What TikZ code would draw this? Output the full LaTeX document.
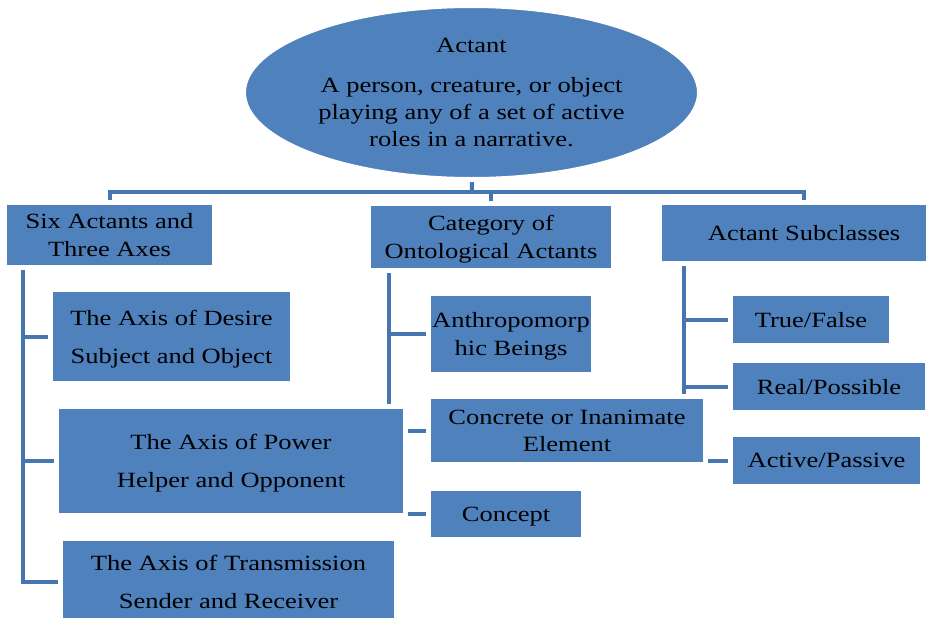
\documentclass[tikz,border=0pt]{standalone}
\usepackage{fontspec}
\setmainfont{Liberation Serif}[FakeStretch=1.22]
\usepackage{tikz}
\usetikzlibrary{positioning,backgrounds,shapes.geometric}
\definecolor{boxblue}{RGB}{79,129,189}
\definecolor{linkblue}{RGB}{70,118,178}

\tikzset{
  box/.style={rectangle, fill=boxblue, draw=white, line width=3.75pt,
    inner sep=0pt, align=center, text=black, text depth=0pt,
    font=\fontsize{16.3}{20.5}\selectfont},
  wide/.style={font=\fontsize{16.3}{28.5}\selectfont},
  link/.style={draw=linkblue, line width=3pt}
}

\begin{document}
\begin{tikzpicture}[x=0.75pt, y=-0.75pt]
                \useasboundingbox (0,0) rectangle (926,618);
                \clip (0,0) rectangle (926,618);

                % Nodes
                \node[box, ellipse, minimum width=342pt, minimum height=130.5pt] (actant) at (471.5,92.5)
                    {Actant\\[9pt]A person, creature, or object\\playing any of a set of active\\roles in a narrative.};

                \node[box, minimum width=157.5pt, minimum height=48.75pt, font=\fontsize{16.3}{21}\selectfont] (six) at (109.5,235) {Six Actants and\\Three Axes};
                \node[box, minimum width=183.75pt, minimum height=50.25pt, font=\fontsize{16.3}{21}\selectfont] (category) at (491,237) {Category of\\Ontological Actants};
                \node[box, minimum width=216.75pt, minimum height=45.75pt] (subclasses) at (804,233) {Actant Subclasses};

                \node[box, wide, minimum width=181.5pt, minimum height=70.5pt] (desire) at (171.5,336.5) {The Axis of Desire\\Subject and Object};
                \node[box, wide, minimum width=261.75pt, minimum height=81.75pt] (power) at (231,461) {The Axis of Power\\Helper and Opponent};
                \node[box, wide, minimum width=252pt, minimum height=65.25pt] (transmission) at (228.5,582) {The Axis of Transmission\\Sender and Receiver};

                \node[box, minimum width=123.75pt, minimum height=60.75pt] (anthro) at (511,334) {Anthropomorp\\hic Beings};
                \node[box, minimum width=207.75pt, minimum height=51pt] (concrete) at (567,430.5) {Concrete or Inanimate\\Element};
                \node[box, minimum width=116.25pt, minimum height=38.25pt] (concept) at (506,514) {Concept};

                \node[box, minimum width=120.75pt, minimum height=39pt] (truefalse) at (811,319.5) {True/False};
                \node[box, minimum width=147.75pt, minimum height=39pt] (realposs) at (829,386.5) {Real/Possible};
                \node[box, minimum width=144pt, minimum height=39pt] (activepass) at (826.5,460.5) {Active/Passive};

                % Edges (behind the boxes)
                \begin{scope}[on background layer]
                    \coordinate (bar) at (472,192);
                    \draw[link] (actant) -- (bar);
                    \draw[link] (six.north) |- (bar) -| (subclasses.north);
                    \draw[link] (category.north) -- (category.north |- bar);

                    \coordinate (lefttop) at ([xshift=15.4pt]six.south west);
                    \draw[link] (lefttop) |- (desire.west);
                    \draw[link] (lefttop) |- (power.west);
                    \draw[link] (lefttop) |- (transmission.west);

                    \coordinate (midtop) at ([xshift=16.9pt]category.south west);
                    \draw[link] (midtop) |- (anthro.west);
                    \draw[link] (midtop) |- (concrete.west);
                    \draw[link] (midtop) |- (concept.west);

                    \coordinate (righttop) at ([xshift=19.9pt]subclasses.south west);
                    \draw[link] (righttop) |- (truefalse.west);
                    \draw[link] (righttop) |- (realposs.west);
                    \draw[link] (righttop) |- (activepass.west);
                \end{scope}
            \end{tikzpicture}
\end{document}
